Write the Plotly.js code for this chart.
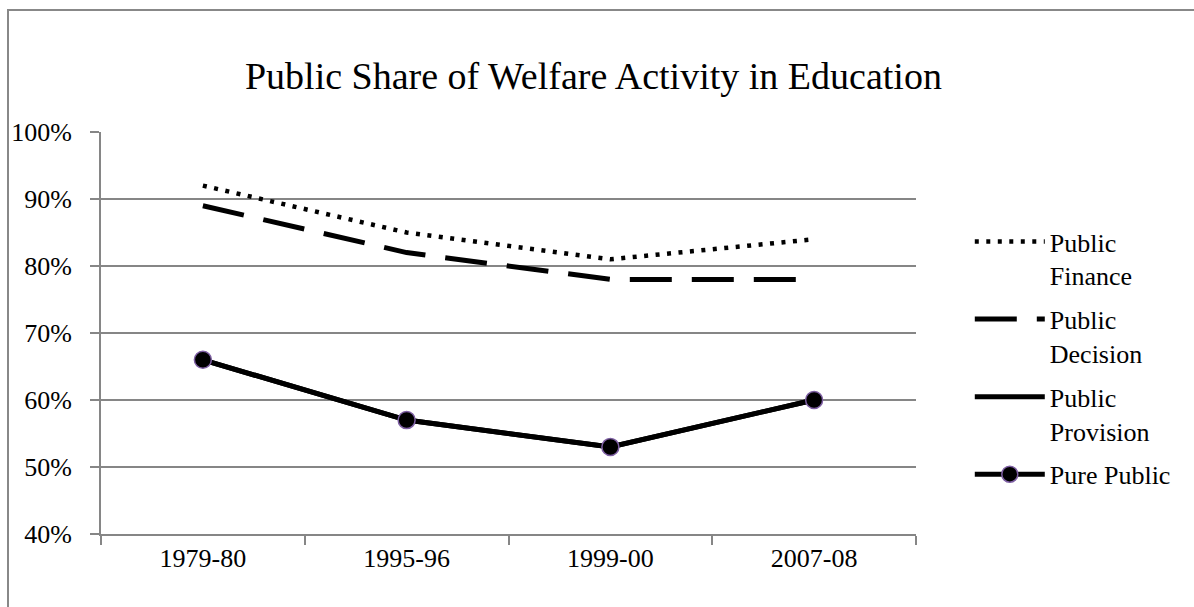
<!DOCTYPE html>
<html>
<head>
<meta charset="utf-8">
<script src="https://cdn.plot.ly/plotly-3.0.1.min.js"></script>
<style>
html,body{margin:0;padding:0;background:#fff;}
#chart{width:1194px;height:607px;}
</style>
</head>
<body>
<div id="chart"></div>
<script>
const categories = ["1979-80", "1995-96", "1999-00", "2007-08"];
const publicFinance = [0.92, 0.85, 0.81, 0.84];
const publicDecision = [0.89, 0.82, 0.78, 0.78];
const publicProvision = [0.66, 0.57, 0.53, 0.60];
const purePublic = [0.66, 0.57, 0.53, 0.60];
const seriesNames = ["Public<br>Finance", "Public<br>Decision", "Public<br>Provision", "Pure Public"];

const serif = "Liberation Serif";

const traces = [
  {x: categories, y: publicFinance, name: seriesNames[0], legendgroup: "g1", mode: "lines",
   line: {color: "#000", width: 4.5, dash: "4px,7.5px"}},
  {x: categories, y: publicDecision, name: seriesNames[1], legendgroup: "g2", mode: "lines",
   line: {color: "#000", width: 5, dash: "42px,20px"}},
  {x: categories, y: publicProvision, name: seriesNames[2], legendgroup: "g3", mode: "lines",
   line: {color: "#000", width: 5}},
  {x: categories, y: purePublic, name: seriesNames[3], legendgroup: "g4", mode: "lines+markers",
   line: {color: "#000", width: 5},
   marker: {color: "#000", size: 17, line: {color: "#7E5FA3", width: 1.5}}}
];

const layout = {
  width: 1194, height: 607,
  margin: {l: 101, r: 278, t: 132, b: 73},
  paper_bgcolor: "#fff", plot_bgcolor: "#fff",
  font: {family: serif, color: "#000", size: 26},
  title: {text: "Public Share of Welfare Activity in Education",
          font: {family: serif, size: 38, color: "#000"},
          x: 0.497, xanchor: "center", y: 0.875, yanchor: "middle"},
  showlegend: true,
  legend: {x: 1.066, xanchor: "left", y: 0.786, yanchor: "top", valign: "top",
           font: {family: serif, size: 26, color: "#000"},
           tracegroupgap: 7, itemwidth: 70, bgcolor: "rgba(0,0,0,0)"},
  xaxis: {type: "category", range: [-0.5, 3.5], tickson: "boundaries",
          showgrid: false, showline: true, linecolor: "#868686", linewidth: 2,
          ticks: "outside", ticklen: 9, tickcolor: "#868686", tickwidth: 2,
          tickfont: {family: serif, size: 26, color: "#000"}, zeroline: false, fixedrange: true},
  yaxis: {range: [0.4, 1.0], dtick: 0.1, tickformat: ".0%",
          showgrid: true, gridcolor: "#868686", gridwidth: 2,
          showline: true, linecolor: "#868686", linewidth: 2,
          ticks: "outside", ticklen: 9, tickcolor: "#868686", tickwidth: 2, ticklabelstandoff: 13,
          tickfont: {family: serif, size: 26, color: "#000"}, zeroline: false, fixedrange: true},
  shapes: [{type: "rect", xref: "paper", yref: "paper",
            x0: (8 - 101) / 815, x1: (1200 - 101) / 815,
            y0: -0.3, y1: 1 + (132 - 10) / 402,
            line: {color: "#888", width: 2}, fillcolor: "rgba(0,0,0,0)", layer: "below"}]
};

Plotly.newPlot("chart", traces, layout, {displayModeBar: false, staticPlot: true});
</script>
</body>
</html>
